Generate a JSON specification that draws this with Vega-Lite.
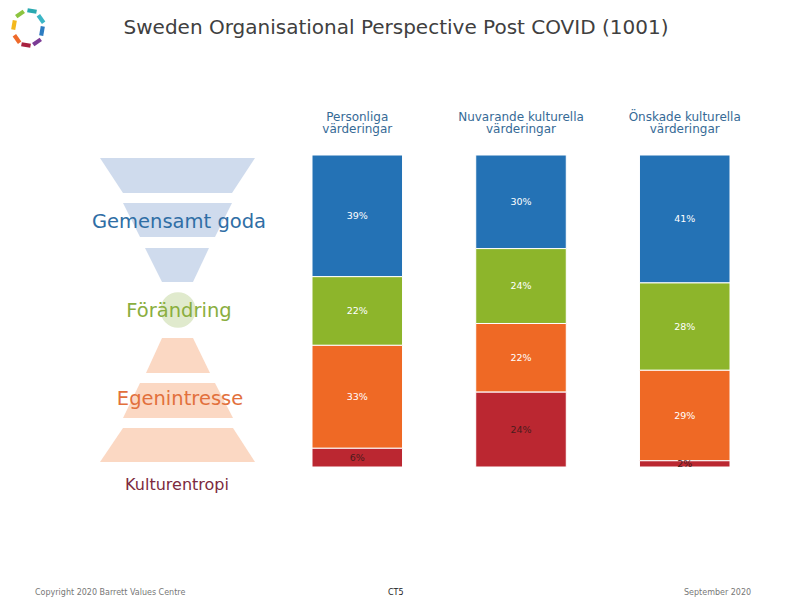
{
  "$schema": "https://vega.github.io/schema/vega-lite/v6.json",
  "width": 792,
  "height": 612,
  "autosize": {"type": "none"},
  "padding": 0,
  "background": "white",
  "config": {"view": {"stroke": null}},
  "title": {
    "text": "Sweden Organisational Perspective Post COVID (1001)",
    "anchor": "middle",
    "frame": "group",
    "offset": -38,
    "font": "DejaVu Sans",
    "fontSize": 20,
    "fontWeight": "normal",
    "color": "#404040"
  },
  "datasets": {
    "bars": [
      {"col": "Personliga|värderingar", "level": "Gemensamt goda", "rank": 4, "value": 0.39},
      {"col": "Personliga|värderingar", "level": "Förändring", "rank": 3, "value": 0.22},
      {"col": "Personliga|värderingar", "level": "Egenintresse", "rank": 2, "value": 0.33},
      {"col": "Personliga|värderingar", "level": "Kulturentropi", "rank": 1, "value": 0.06},
      {"col": "Nuvarande kulturella|värderingar", "level": "Gemensamt goda", "rank": 4, "value": 0.30},
      {"col": "Nuvarande kulturella|värderingar", "level": "Förändring", "rank": 3, "value": 0.24},
      {"col": "Nuvarande kulturella|värderingar", "level": "Egenintresse", "rank": 2, "value": 0.22},
      {"col": "Nuvarande kulturella|värderingar", "level": "Kulturentropi", "rank": 1, "value": 0.24},
      {"col": "Önskade kulturella|värderingar", "level": "Gemensamt goda", "rank": 4, "value": 0.41},
      {"col": "Önskade kulturella|värderingar", "level": "Förändring", "rank": 3, "value": 0.28},
      {"col": "Önskade kulturella|värderingar", "level": "Egenintresse", "rank": 2, "value": 0.29},
      {"col": "Önskade kulturella|värderingar", "level": "Kulturentropi", "rank": 1, "value": 0.02}
    ],
    "funnel": [
      {"piece": "t1", "level": "Gemensamt goda", "y": 158, "left": 100, "right": 255},
      {"piece": "t1", "level": "Gemensamt goda", "y": 193, "left": 123, "right": 232},
      {"piece": "t2", "level": "Gemensamt goda", "y": 203, "left": 123, "right": 232},
      {"piece": "t2", "level": "Gemensamt goda", "y": 237, "left": 140, "right": 215},
      {"piece": "t3", "level": "Gemensamt goda", "y": 248, "left": 145, "right": 209},
      {"piece": "t3", "level": "Gemensamt goda", "y": 282, "left": 162, "right": 193},
      {"piece": "t4", "level": "Egenintresse", "y": 338, "left": 162, "right": 193},
      {"piece": "t4", "level": "Egenintresse", "y": 373, "left": 146, "right": 210},
      {"piece": "t5", "level": "Egenintresse", "y": 383, "left": 140, "right": 215},
      {"piece": "t5", "level": "Egenintresse", "y": 418, "left": 123, "right": 233},
      {"piece": "t6", "level": "Egenintresse", "y": 428, "left": 123, "right": 233},
      {"piece": "t6", "level": "Egenintresse", "y": 462, "left": 100, "right": 255}
    ],
    "circle": [{"level": "Förändring", "x": 178, "y": 310}],
    "labels": [
      {"level": "Gemensamt goda", "x": 179, "y": 222},
      {"level": "Förändring", "x": 179, "y": 311},
      {"level": "Egenintresse", "x": 180, "y": 399},
      {"level": "Kulturentropi", "x": 177, "y": 485}
    ],
    "footer": [
      {"text": "Copyright 2020 Barrett Values Centre", "kind": "meta", "x": 35, "y": 593},
      {"text": "CT5", "kind": "page", "x": 388, "y": 593},
      {"text": "September 2020", "kind": "meta", "x": 684, "y": 593}
    ],
    "logo": [
      {"hue": "yellow", "x": 14, "y": 25, "angle": 100},
      {"hue": "green", "x": 20, "y": 14, "angle": 145},
      {"hue": "teal", "x": 32, "y": 11, "angle": 10},
      {"hue": "cyan", "x": 41, "y": 19, "angle": 55},
      {"hue": "blue", "x": 42, "y": 31, "angle": 100},
      {"hue": "purple", "x": 37, "y": 42, "angle": 145},
      {"hue": "maroon", "x": 26, "y": 45, "angle": 10},
      {"hue": "red", "x": 17, "y": 39, "angle": 55}
    ]
  },
  "layer": [
    {
      "data": {"name": "bars"},
      "layer": [
        {
          "mark": {"type": "bar", "stroke": "white", "strokeWidth": 1},
          "encoding": {
            "x": {
              "field": "col", "type": "nominal", "sort": null,
              "scale": {"range": [312, 730], "paddingInner": 0.447, "paddingOuter": 0},
              "axis": {
                "orient": "top", "title": null, "domain": false, "ticks": false,
                "labelPadding": 2, "offset": -125, "labelAngle": 0,
                "labelExpr": "split(datum.value, '|')",
                "labelFont": "DejaVu Sans", "labelFontSize": 12,
                "labelColor": "#366a96", "labelLineHeight": 12.5
              }
            },
            "y": {
              "field": "value", "type": "quantitative", "stack": "zero",
              "scale": {"domain": [-0.4647, 1.4968], "nice": false, "zero": false},
              "axis": null
            },
            "order": {"field": "rank"},
            "color": {
              "field": "level", "type": "nominal",
              "scale": {
                "domain": ["Gemensamt goda", "Förändring", "Egenintresse", "Kulturentropi"],
                "range": ["#2472b5", "#8db52b", "#ef6925", "#bb2731"]
              },
              "legend": null
            }
          }
        },
        {
          "mark": {"type": "text", "font": "DejaVu Sans", "fontSize": 9.5, "baseline": "middle"},
          "encoding": {
            "x": {"field": "col", "type": "nominal", "sort": null},
            "y": {"field": "value", "type": "quantitative", "stack": "zero", "bandPosition": 0.5},
            "order": {"field": "rank"},
            "text": {"field": "value", "format": ".0%"},
            "color": {
              "condition": {"test": "datum.level === 'Kulturentropi'", "value": "#4a1c1c"},
              "value": "white"
            }
          }
        }
      ]
    },
    {
      "layer": [
        {
          "data": {"name": "funnel"},
          "mark": {"type": "area", "orient": "horizontal"},
          "encoding": {
            "y": {"field": "y", "type": "quantitative", "scale": {"domain": [0, 612], "reverse": true, "nice": false, "zero": false}, "axis": null},
            "x": {"field": "left", "type": "quantitative", "scale": {"domain": [0, 792], "nice": false, "zero": false}, "axis": null},
            "x2": {"field": "right"},
            "detail": {"field": "piece"},
            "color": {
              "field": "level", "type": "nominal",
              "scale": {"domain": ["Gemensamt goda", "Egenintresse"], "range": ["#cfdbed", "#fbd8c3"]},
              "legend": null
            }
          }
        },
        {
          "data": {"name": "circle"},
          "mark": {"type": "point", "shape": "circle", "filled": true, "opacity": 1, "size": 1257, "color": "#e0eacd"},
          "encoding": {
            "x": {"field": "x", "type": "quantitative"},
            "y": {"field": "y", "type": "quantitative"}
          }
        },
        {
          "data": {"name": "labels"},
          "transform": [{"filter": "datum.level !== 'Kulturentropi'"}],
          "mark": {"type": "text", "font": "DejaVu Sans", "fontSize": 19.5, "baseline": "middle", "align": "center"},
          "encoding": {
            "x": {"field": "x", "type": "quantitative"},
            "y": {"field": "y", "type": "quantitative"},
            "text": {"field": "level"},
            "color": {
              "field": "level", "type": "nominal",
              "scale": {"domain": ["Gemensamt goda", "Förändring", "Egenintresse"], "range": ["#2f6ea5", "#8aae3e", "#e2703c"]},
              "legend": null
            }
          }
        },
        {
          "data": {"name": "labels"},
          "transform": [{"filter": "datum.level === 'Kulturentropi'"}],
          "mark": {"type": "text", "font": "DejaVu Sans", "fontSize": 16, "baseline": "middle", "align": "center", "color": "#7d2a3e"},
          "encoding": {
            "x": {"field": "x", "type": "quantitative"},
            "y": {"field": "y", "type": "quantitative"},
            "text": {"field": "level"}
          }
        },
        {
          "data": {"name": "footer"},
          "mark": {"type": "text", "font": "DejaVu Sans", "fontSize": 8, "baseline": "middle", "align": "left"},
          "encoding": {
            "x": {"field": "x", "type": "quantitative"},
            "y": {"field": "y", "type": "quantitative"},
            "text": {"field": "text"},
            "color": {
              "field": "kind", "type": "nominal",
              "scale": {"domain": ["meta", "page"], "range": ["#777777", "#222222"]},
              "legend": null
            }
          }
        },
        {
          "data": {"name": "logo"},
          "mark": {"type": "point", "filled": true, "opacity": 1, "size": 85, "shape": "M -1 -0.45 L 1 -0.45 L 1 0.45 L -1 0.45 Z"},
          "encoding": {
            "x": {"field": "x", "type": "quantitative"},
            "y": {"field": "y", "type": "quantitative"},
            "angle": {"field": "angle", "type": "quantitative", "scale": null},
            "color": {
              "field": "hue", "type": "nominal",
              "scale": {
                "domain": ["yellow", "green", "teal", "cyan", "blue", "purple", "maroon", "red"],
                "range": ["#f4b81c", "#8cc43f", "#2aa9b0", "#3bb6c6", "#2d7cc1", "#7b3b95", "#a8213f", "#ee6a2a"]
              },
              "legend": null
            }
          }
        }
      ],
      "resolve": {"scale": {"color": "independent"}}
    }
  ],
  "resolve": {"scale": {"x": "independent", "y": "independent", "color": "independent"}}
}
